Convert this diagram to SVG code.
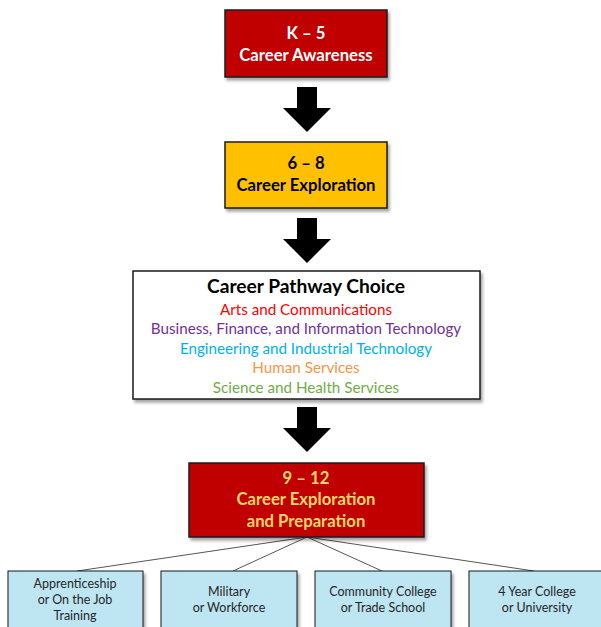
<svg xmlns="http://www.w3.org/2000/svg" width="601" height="627" viewBox="0 0 601 627">
<defs>
<filter id="sh" x="-10%" y="-10%" width="130%" height="140%">
<feDropShadow dx="2" dy="3" stdDeviation="1.5" flood-color="#000" flood-opacity="0.35"/>
</filter>
</defs>
<style>
text{font-family:Lato,"Liberation Sans",sans-serif;text-anchor:middle}
.box{stroke:#1a1a1a;stroke-width:1.5;filter:url(#sh)}
.red{fill:#C00000}
.gold{fill:#FFC000}
.white{fill:#fff}
.blue{fill:#BDE5F2;stroke-width:1}
.hd{font-size:16.7px;font-weight:bold}
.sub{font-size:15.2px}
.sm{font-size:12.5px;fill:#262626}
.arrow{fill:#000}
.ln{stroke:#555;stroke-width:1;fill:none}
</style>
<g id="connectors">
<polygon class="arrow" points="297,87 317,87 317,108 331,108 307,132 283,108 297,108"/>
<polygon class="arrow" points="297,218 317,218 317,239 331,239 307,263 283,239 297,239"/>
<polygon class="arrow" points="297,407 317,407 317,428 331,428 307,452 283,428 297,428"/>
<path class="ln" d="M307,537 L77,571 M307,537 L233,571 M307,537 L382,571 M307,537 L534,571"/>
</g>
<g id="k5">
<rect class="box red" x="225" y="10" width="162" height="67"/>
<text class="hd" x="306" y="39" fill="#fff">K – 5</text>
<text class="hd" x="306" y="61" fill="#fff">Career Awareness</text>
</g>
<g id="g68">
<rect class="box gold" x="225" y="142" width="162" height="66"/>
<text class="hd" x="306" y="169" fill="#000">6 – 8</text>
<text class="hd" x="306" y="191" fill="#000">Career Exploration</text>
</g>
<g id="pathway">
<rect class="box white" x="133" y="271" width="347" height="128"/>
<text x="306" y="293" font-size="19.2" font-weight="bold" fill="#000">Career Pathway Choice</text>
<text class="sub" x="306" y="315" fill="#FF0000">Arts and Communications</text>
<text class="sub" x="306" y="334" fill="#7030A0">Business, Finance, and Information Technology</text>
<text class="sub" x="306" y="354" fill="#00B0F0">Engineering and Industrial Technology</text>
<text class="sub" x="306" y="373" fill="#F79646">Human Services</text>
<text class="sub" x="306" y="393" fill="#70AD47">Science and Health Services</text>
</g>
<g id="g912">
<rect class="box red" x="189" y="463" width="235" height="74"/>
<text class="hd" x="306" y="484" fill="#FFD966">9 – 12</text>
<text class="hd" x="306" y="505" fill="#FFD966">Career Exploration</text>
<text class="hd" x="306" y="527" fill="#FFD966">and Preparation</text>
</g>
<g id="apprentice">
<rect class="box blue" x="8" y="571" width="135" height="70"/>
<text class="sm" x="75" y="588">Apprenticeship</text>
<text class="sm" x="75" y="604">or On the Job</text>
<text class="sm" x="75" y="620">Training</text>
</g>
<g id="military">
<rect class="box blue" x="161" y="571" width="136" height="70"/>
<text class="sm" x="229" y="596">Military</text>
<text class="sm" x="229" y="612">or Workforce</text>
</g>
<g id="community">
<rect class="box blue" x="315" y="571" width="136" height="70"/>
<text class="sm" x="383" y="596">Community College</text>
<text class="sm" x="383" y="612">or Trade School</text>
</g>
<g id="university">
<rect class="box blue" x="469" y="571" width="136" height="70"/>
<text class="sm" x="537" y="596">4 Year College</text>
<text class="sm" x="537" y="612">or University</text>
</g>
</svg>
